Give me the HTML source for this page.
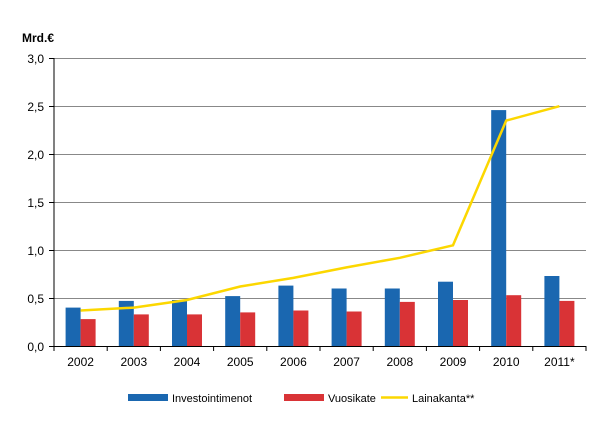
<!DOCTYPE html><html><head><style>body{margin:0;background:#fff}</style></head><body>
<svg width="607" height="418" font-family="Liberation Sans, sans-serif" font-size="12" xmlns="http://www.w3.org/2000/svg">
<rect width="607" height="418" fill="#fff"/>
<text x="22" y="42" font-weight="bold" font-size="12">Mrd.€</text>
<g stroke="#888" stroke-width="1">
<line x1="54" x2="586" y1="58.5" y2="58.5"/><line x1="54" x2="586" y1="106.5" y2="106.5"/><line x1="54" x2="586" y1="154.5" y2="154.5"/><line x1="54" x2="586" y1="202.5" y2="202.5"/><line x1="54" x2="586" y1="250.5" y2="250.5"/><line x1="54" x2="586" y1="298.5" y2="298.5"/>
</g>
<g font-size="12" text-anchor="end">
<text x="44" y="63">3,0</text><text x="44" y="111">2,5</text><text x="44" y="159">2,0</text><text x="44" y="207">1,5</text><text x="44" y="255">1,0</text><text x="44" y="303">0,5</text><text x="44" y="351">0,0</text>
</g>
<g fill="#1a67b0">
<rect x="65.6" y="307.6" width="15" height="38.4"/>
<rect x="118.8" y="300.9" width="15" height="45.1"/>
<rect x="172" y="300" width="15" height="46"/>
<rect x="225.2" y="296.1" width="15" height="49.9"/>
<rect x="278.4" y="285.6" width="15" height="60.4"/>
<rect x="331.6" y="288.5" width="15" height="57.5"/>
<rect x="384.8" y="288.5" width="15" height="57.5"/>
<rect x="438" y="281.7" width="15" height="64.3"/>
<rect x="491.2" y="110.1" width="15" height="235.9"/>
<rect x="544.4" y="276" width="15" height="70"/>
</g>
<g fill="#d93336">
<rect x="80.6" y="319.1" width="15" height="26.9"/>
<rect x="133.8" y="314.4" width="15" height="31.6"/>
<rect x="187" y="314.4" width="15" height="31.6"/>
<rect x="240.2" y="312.4" width="15" height="33.6"/>
<rect x="293.4" y="310.5" width="15" height="35.5"/>
<rect x="346.6" y="311.5" width="15" height="34.5"/>
<rect x="399.8" y="301.9" width="15" height="44.1"/>
<rect x="453" y="300" width="15" height="46"/>
<rect x="506.2" y="295.2" width="15" height="50.8"/>
<rect x="559.4" y="300.9" width="15" height="45.1"/>
</g>
<polyline points="80.6,310.5 133.8,307.6 187,300 240.2,286.5 293.4,277.9 346.6,267.4 399.8,257.8 453,245.3 506.2,120.6 559.4,106.2" fill="none" stroke="#fcd700" stroke-width="2.5"/>
<g font-size="12" text-anchor="middle">
<text x="80.6" y="366">2002</text><text x="133.8" y="366">2003</text><text x="187" y="366">2004</text><text x="240.2" y="366">2005</text><text x="293.4" y="366">2006</text><text x="346.6" y="366">2007</text><text x="399.8" y="366">2008</text><text x="453" y="366">2009</text><text x="506.2" y="366">2010</text><text x="559.4" y="366">2011*</text>
</g>
<g stroke="#000">
<line x1="54" x2="54" y1="58" y2="351"/>
<line x1="107.2" x2="107.2" y1="346" y2="351"/><line x1="160.4" x2="160.4" y1="346" y2="351"/><line x1="213.6" x2="213.6" y1="346" y2="351"/><line x1="266.8" x2="266.8" y1="346" y2="351"/><line x1="320" x2="320" y1="346" y2="351"/><line x1="373.2" x2="373.2" y1="346" y2="351"/><line x1="426.4" x2="426.4" y1="346" y2="351"/><line x1="479.6" x2="479.6" y1="346" y2="351"/><line x1="532.8" x2="532.8" y1="346" y2="351"/><line x1="586" x2="586" y1="346" y2="351"/>
<line x1="49" x2="54" y1="58.5" y2="58.5"/><line x1="49" x2="54" y1="106.5" y2="106.5"/><line x1="49" x2="54" y1="154.5" y2="154.5"/><line x1="49" x2="54" y1="202.5" y2="202.5"/><line x1="49" x2="54" y1="250.5" y2="250.5"/><line x1="49" x2="54" y1="298.5" y2="298.5"/>
<line x1="49" x2="586" y1="346.5" y2="346.5"/>
</g>
<rect x="128" y="394" width="40" height="7" fill="#1a67b0"/>
<text x="172" y="402" font-size="11">Investointimenot</text>
<rect x="284" y="394" width="40" height="7" fill="#d93336"/>
<text x="328" y="402" font-size="11">Vuosikate</text>
<line x1="381" x2="408" y1="397.5" y2="397.5" stroke="#fcd700" stroke-width="2.5"/>
<text x="412" y="402" font-size="11">Lainakanta**</text>
</svg>
</body></html>
